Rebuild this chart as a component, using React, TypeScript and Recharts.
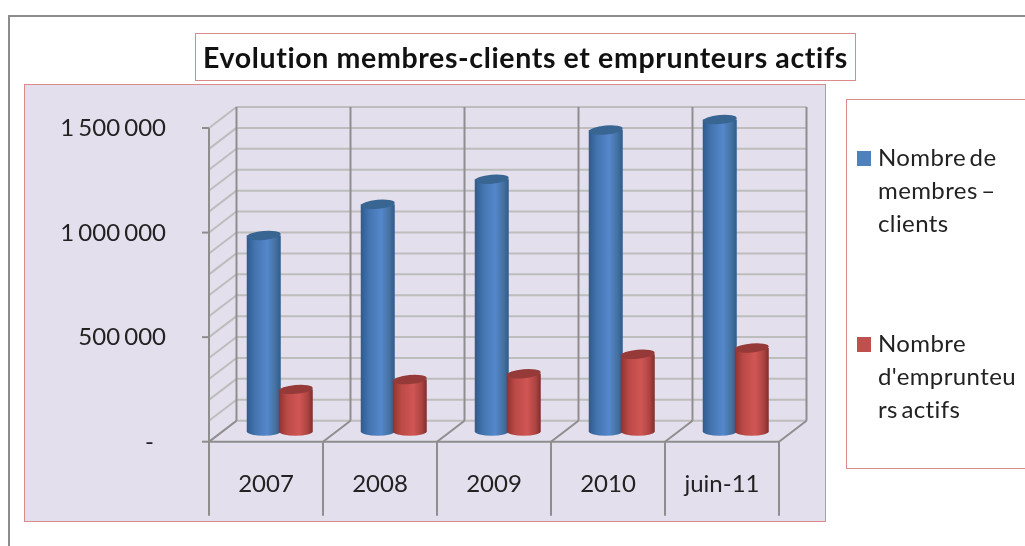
import { Bar, BarChart, Legend, XAxis, YAxis, usePlotArea } from "recharts";

const categories = ["2007", "2008", "2009", "2010", "juin-11"];
const membres = [936000, 1085000, 1205000, 1440000, 1490000];
const emprunteurs = [200000, 247000, 275000, 368000, 398000];
const yTicks = [0, 500000, 1000000, 1500000];
const gridValues = [
  0, 100000, 200000, 300000, 400000, 500000, 600000, 700000, 800000, 900000,
  1000000, 1100000, 1200000, 1300000, 1400000, 1500000,
];
const titleText = "Evolution membres-clients et emprunteurs actifs";
const membresName = "Nombre de membres – clients";
const emprunteursName = "Nombre d'emprunteurs actifs";
const legendLines: Record<string, string[]> = {
  [membresName]: ["Nombre de", "membres –", "clients"],
  [emprunteursName]: ["Nombre", "d'emprunteu", "rs actifs"],
};

const data = categories.map((name, i) => ({
  name,
  membres: membres[i],
  emprunteurs: emprunteurs[i],
}));

const DEPTH_X = 27.5;
const DEPTH_Y = 21;
const MAX = 1500000;
const FONT = "Lato, sans-serif";
const BOX = "#D98B8B";
const AXIS = "#8E8E8E";
const GRID = "#BDBDBD";

/* back wall, side wall and floor, drawn behind the bars */
function Walls() {
  const plot = usePlotArea();
  if (!plot) return null;
  const { x, y, width, height } = plot;
  const bottom = y + height;
  const band = width / categories.length;
  const yOf = (v: number) => bottom - (v / MAX) * height;
  const edges = [0, 1, 2, 3, 4, 5].map((i) => x + i * band);
  return (
    <g>
      {gridValues.map((v) => (
        <g key={v} stroke={GRID} strokeWidth={2}>
          <line x1={x + DEPTH_X} x2={x + width + DEPTH_X} y1={yOf(v) - DEPTH_Y} y2={yOf(v) - DEPTH_Y} />
          <line x1={x} x2={x + DEPTH_X} y1={yOf(v)} y2={yOf(v) - DEPTH_Y} />
        </g>
      ))}
      {edges.map((ex) => (
        <g key={ex} stroke={AXIS} strokeWidth={2}>
          <line x1={ex + DEPTH_X} x2={ex + DEPTH_X} y1={yOf(MAX) - DEPTH_Y} y2={bottom - DEPTH_Y} />
          <line x1={ex} x2={ex + DEPTH_X} y1={bottom} y2={bottom - DEPTH_Y} />
          <line x1={ex} x2={ex} y1={bottom} y2={bottom + 74} />
        </g>
      ))}
    </g>
  );
}

function Cylinder(props: any) {
  const { x, y, width, height, gradient, top } = props;
  const cx = x + DEPTH_X / 2;
  const cy = y - DEPTH_Y / 2;
  const rx = width / 2;
  const ry = 4.5;
  const base = cy + height;
  const mid = cx + rx;
  return (
    <g>
      <path
        d={`M${cx},${cy} L${cx},${base} A${rx},${ry} 0 0 0 ${cx + width},${base} L${cx + width},${cy} Z`}
        fill={`url(#${gradient})`}
      />
      <ellipse cx={mid} cy={cy} rx={rx} ry={ry} fill={top} transform={`rotate(-5 ${mid} ${cy})`} />
    </g>
  );
}

function YTick({ x, y, payload }: any) {
  const zero = payload.value === 0;
  return (
    <text
      x={zero ? x - 12 : x}
      y={y}
      dy={8}
      textAnchor="end"
      fontFamily={FONT}
      fontSize={24}
      fill="#222"
      wordSpacing={-2}
    >
      {zero ? "-" : payload.value.toLocaleString("en-US").replace(/,/g, " ")}
    </text>
  );
}

function LegendBox({ payload }: any) {
  return (
    <div
      style={{
        boxSizing: "border-box",
        width: 200,
        height: 370,
        border: `1px solid ${BOX}`,
        background: "#fff",
        fontFamily: FONT,
        fontSize: 24,
        letterSpacing: 0.4,
        wordSpacing: -3,
        fontVariantLigatures: "none",
        color: "#222",
        lineHeight: "33px",
        position: "relative",
      }}
    >
      {(payload ?? []).map((entry: any) => (
        <div key={entry.value} style={{ position: "absolute", left: 10, top: entry.dataKey === "membres" ? 40 : 226 }}>
          <div style={{ position: "absolute", left: 0, top: 11, width: 14, height: 15, background: entry.color }} />
          <div style={{ marginLeft: 21, whiteSpace: "nowrap" }}>
            {legendLines[entry.value].map((line) => (
              <div key={line}>{line}</div>
            ))}
          </div>
        </div>
      ))}
    </div>
  );
}

export default function App() {
  return (
    <div
      style={{
        position: "absolute",
        left: 0,
        top: 0,
        width: 1025,
        height: 546,
        overflow: "hidden",
        background: "#fff",
        filter: "blur(0.4px)",
      }}
    >
      {/* outer frame, its right and bottom edges fall off the picture */}
      <div style={{ position: "absolute", left: 8, top: 15, width: 1100, height: 600, border: "2px solid #8C8C8C" }} />
      <div
        style={{
          position: "absolute",
          left: 24,
          top: 84,
          width: 800,
          height: 436,
          background: "#E4DFEC",
          border: `1px solid ${BOX}`,
        }}
      />
      <div
        style={{
          position: "absolute",
          left: 195,
          top: 33,
          width: 659,
          height: 46,
          background: "#fff",
          border: `1px solid ${BOX}`,
          fontFamily: FONT,
          fontWeight: 700,
          fontSize: 28.5,
          letterSpacing: 0.63,
          fontVariantLigatures: "none",
          lineHeight: "46px",
          textAlign: "center",
          color: "#111",
          whiteSpace: "nowrap",
        }}
      >
        {titleText}
      </div>
      <div style={{ position: "absolute", left: 0, top: 0 }}>
        <BarChart
          width={1025}
          height={546}
          data={data}
          barSize={34}
          barGap={-2}
          margin={{ top: 128, right: 246, bottom: 74.3, left: 0 }}
        >
          <defs>
            <linearGradient id="blueCyl" x1="0" y1="0" x2="1" y2="0">
              <stop offset="0%" stopColor="#2F5A8E" />
              <stop offset="25%" stopColor="#4475B0" />
              <stop offset="60%" stopColor="#5587CC" />
              <stop offset="85%" stopColor="#44719F" />
              <stop offset="100%" stopColor="#2F5A8E" />
            </linearGradient>
            <linearGradient id="redCyl" x1="0" y1="0" x2="1" y2="0">
              <stop offset="0%" stopColor="#8E3330" />
              <stop offset="25%" stopColor="#BC4A47" />
              <stop offset="60%" stopColor="#D05654" />
              <stop offset="85%" stopColor="#AC4442" />
              <stop offset="100%" stopColor="#7F2E2C" />
            </linearGradient>
          </defs>
          <Walls />
          <XAxis
            dataKey="name"
            height={30}
            axisLine={{ stroke: AXIS, strokeWidth: 2 }}
            tickLine={false}
            tickMargin={27}
            tick={{ fontFamily: FONT, fontSize: 24, fill: "#222" }}
            interval={0}
          />
          <YAxis
            width={209}
            domain={[0, MAX]}
            ticks={yTicks}
            axisLine={{ stroke: AXIS, strokeWidth: 2 }}
            tickLine={{ stroke: AXIS, strokeWidth: 2 }}
            tickSize={7}
            tickMargin={36}
            tick={<YTick />}
          />
          <Legend
            layout="vertical"
            align="center"
            verticalAlign="middle"
            wrapperStyle={{ left: 846, top: 99, width: 200, height: 370 }}
            content={<LegendBox />}
          />
          <Bar
            dataKey="membres"
            name={membresName}
            fill="#4F81BD"
            isAnimationActive={false}
            shape={<Cylinder gradient="blueCyl" top="#386592" />}
          />
          <Bar
            dataKey="emprunteurs"
            name={emprunteursName}
            fill="#C0504D"
            isAnimationActive={false}
            shape={<Cylinder gradient="redCyl" top="#953A38" />}
          />
        </BarChart>
      </div>
    </div>
  );
}
